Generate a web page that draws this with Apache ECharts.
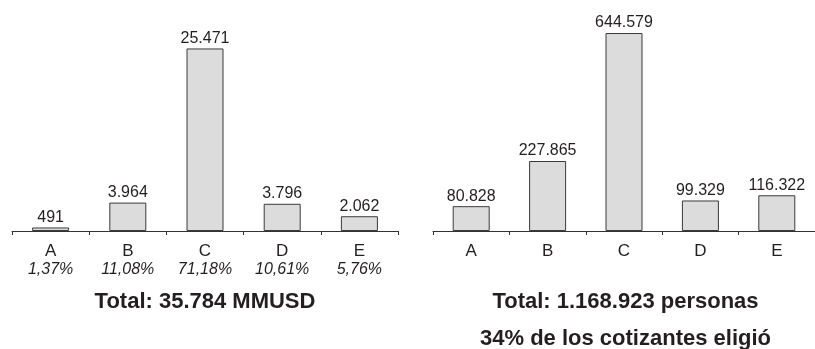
<!DOCTYPE html>
<html>
<head>
<meta charset="utf-8">
<script src="https://cdn.jsdelivr.net/npm/echarts@6/dist/echarts.min.js"></script>
<style>
  html, body { margin: 0; padding: 0; background: #ffffff; }
  #chart { width: 815px; height: 349px; }
</style>
</head>
<body>
<div id="chart"></div>
<script>
// Categorías de fondos
const categories = ['A', 'B', 'C', 'D', 'E'];
// Monto administrado por fondo (MMUSD)
const montos = [491, 3964, 25471, 3796, 2062];
// Participación de cada fondo en el total
const porcentajes = ['1,37%', '11,08%', '71,18%', '10,61%', '5,76%'];
// Cotizantes por fondo (personas)
const personas = [80828, 227865, 644579, 99329, 116322];

const totalMontoTxt = 'Total: 35.784 MMUSD';
const totalPersonasTxt = 'Total: 1.168.923 personas';
const eligioTxt = '34% de los cotizantes eligió';

const FONT = "Arial, 'Liberation Sans', sans-serif";
const INK = '#231f20';

function miles(v) {
  return String(v).replace(/\B(?=(\d{3})+(?!\d))/g, '.');
}

const barStyle = {
  color: '#dcdcdd',
  borderColor: '#3a3a3a',
  borderWidth: 1
};

const valueLabel = {
  show: true,
  position: 'top',
  distance: 2,
  fontFamily: FONT,
  fontSize: 16,
  color: INK,
  formatter: p => miles(p.value)
};

function xAxisFor(gridIndex, withPct) {
  return {
    type: 'category',
    gridIndex: gridIndex,
    data: categories,
    axisLine: { show: true, lineStyle: { color: '#333333', width: 1 } },
    axisTick: { show: true, length: 4, lineStyle: { color: '#333333' } },
    axisLabel: {
      margin: 10,
      fontFamily: FONT,
      color: INK,
      formatter: (v, i) => withPct ? '{c|' + v + '}\n{p|' + porcentajes[i] + '}' : '{c|' + v + '}',
      rich: {
        c: { fontSize: 17, lineHeight: 20, fontFamily: FONT, color: INK },
        p: { fontSize: 16, lineHeight: 18, fontStyle: 'italic', fontFamily: FONT, color: INK }
      }
    }
  };
}

const chart = echarts.init(document.getElementById('chart'), null, { renderer: 'canvas' });

chart.setOption({
  animation: false,
  backgroundColor: '#ffffff',
  grid: [
    { left: 12, width: 386, top: 16, height: 215 },
    { left: 433, width: 385, top: 16, height: 215 }
  ],
  xAxis: [xAxisFor(0, true), xAxisFor(1, false)],
  yAxis: [
    { type: 'value', gridIndex: 0, min: 0, max: 30000, show: false },
    { type: 'value', gridIndex: 1, min: 0, max: 700000, show: false }
  ],
  series: [
    {
      type: 'bar', xAxisIndex: 0, yAxisIndex: 0,
      data: montos, barWidth: 37,
      itemStyle: barStyle, label: valueLabel
    },
    {
      type: 'bar', xAxisIndex: 1, yAxisIndex: 1,
      data: personas, barWidth: 37,
      itemStyle: barStyle, label: valueLabel
    }
  ],
  graphic: [
    {
      type: 'text', x: 205, y: 302,
      style: {
        text: totalMontoTxt, fontFamily: FONT, fontSize: 22, fontWeight: 'bold',
        fill: INK, align: 'center', verticalAlign: 'middle'
      }
    },
    {
      type: 'text', x: 625.5, y: 302,
      style: {
        text: totalPersonasTxt, fontFamily: FONT, fontSize: 22, fontWeight: 'bold',
        fill: INK, align: 'center', verticalAlign: 'middle'
      }
    },
    {
      type: 'text', x: 625.5, y: 339,
      style: {
        text: eligioTxt, fontFamily: FONT, fontSize: 22, fontWeight: 'bold',
        fill: INK, align: 'center', verticalAlign: 'middle'
      }
    }
  ]
});
</script>
</body>
</html>
